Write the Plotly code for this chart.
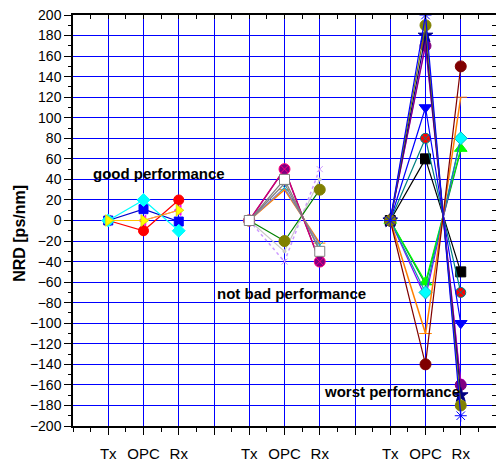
import plotly.graph_objects as go

# ---------------- data ----------------
stage_labels = ["Tx", "OPC", "Rx"]
good_x = [1, 2, 3]
notbad_x = [5, 6, 7]
worst_x = [9, 10, 11]
x_tick_vals = [1, 2, 3, 4, 5, 6, 7, 8, 9, 10, 11]
x_tick_text = ["Tx", "OPC", "Rx", "", "Tx", "OPC", "Rx", "", "Tx", "OPC", "Rx"]

# good performance group
good_magenta = [0, 0, 10]
good_yellow = [0, 0, 10]
good_blue = [0, 11, -1]
good_red = [0, -10, 20]
good_cyan = [0, 20, -10]

# not bad performance group
nb_lavender = [0, -40, 50]
nb_lightgray = [0, -30, 40]
nb_olive = [0, -20, 30]
nb_orange = [0, 30, -22]
nb_cyanx = [0, 32, -24]
nb_gray = [0, 36, -28]
nb_darkpurple = [0, 50, -40]
nb_magenta = [0, 50, -40]
nb_white = [0, 40, -30]

# worst performance group
w_black = [0, 60, -50]
w_red = [0, 80, -70]
w_blue = [0, 110, -100]
w_green = [0, -60, 70]
w_darkgreen = [0, -62, 68]
w_cyan = [0, -70, 80]
w_violet = [0, -75, 80]
w_orange = [0, -110, 120]
w_darkred = [0, -140, 150]
w_magenta = [0, 172, -158]
w_purple = [0, 170, -160]
w_navy = [0, 180, -170]
w_olive = [0, 190, -180]
w_asterisk = [0, 200, -190]

annotation_texts = ["good performance", "not bad performance", "worst performance"]
annotation_x = [2.45, 6.2, 9.05]
annotation_y = [46, -71, -166]
y_title = "NRD [ps/nm]"

# ---------------- styles ----------------
fig = go.Figure()


def add(xs, ys, line_color, symbol, mcolor, msize=9, mline=None, lwidth=1.2, dash="solid"):
    fig.add_trace(go.Scatter(
        x=xs, y=ys, mode="lines+markers",
        line=dict(color=line_color, width=lwidth, dash=dash),
        marker=dict(symbol=symbol, color=mcolor, size=msize,
                    line=dict(color=mline if mline else mcolor, width=1)),
        showlegend=False, hoverinfo="skip"))


# good
add(good_x, good_magenta, "#FF00FF", "triangle-left", "#FF00FF", 9)
add(good_x, good_red, "#FF0000", "circle", "#FF0000", 10)
add(good_x, good_blue, "#0000CC", "square", "#0000FF", 9)
add(good_x, good_cyan, "#00FFFF", "diamond", "#00FFFF", 10)
add(good_x, good_yellow, "#FFC000", "triangle-right", "#FFFF00", 10, mline="#E0E000")

# not bad
add(notbad_x, nb_lavender, "#CC99FF", "x-thin", "#CC99FF", 6, dash="dot", lwidth=1.5)
add(notbad_x, nb_lightgray, "#C8C8C8", "circle", "#C8C8C8", 3)
add(notbad_x, nb_olive, "#008000", "circle", "#808000", 11)
add(notbad_x, nb_orange, "#FF8000", "line-ew", "#FF8000", 8, lwidth=1.5)
add(notbad_x, nb_cyanx, "#8080C0", "x-thin", "#00C0C0", 8)
add(notbad_x, nb_gray, "#808080", "circle", "#808080", 3)
add(notbad_x, nb_darkpurple, "#660066", "circle", "#660066", 3)
add(notbad_x, nb_magenta, "#CC0077", "circle-x", "#800080", 11, mline="#FF0080", lwidth=1.5)
add(notbad_x, nb_white, "#808080", "square", "#FFFFFF", 10, mline="#808080")

# worst
add(worst_x, w_black, "#000000", "square", "#000000", 10)
add(worst_x, w_red, "#008080", "circle-x", "#FF0000", 10, mline="#008080")
add(worst_x, w_blue, "#0000FF", "triangle-down", "#0000FF", 11)
add(worst_x, w_darkgreen, "#008040", "circle", "#008040", 2)
add(worst_x, w_green, "#00FF00", "triangle-up", "#00FF00", 11)
add(worst_x, w_violet, "#8000FF", "circle", "#8000FF", 2)
add(worst_x, w_cyan, "#00A0A0", "diamond", "#00FFFF", 10, mline="#00C0C0")
add(worst_x, w_orange, "#FF8000", "line-ew", "#FF8000", 9, lwidth=1.5)
add(worst_x, w_darkred, "#800000", "circle", "#800000", 11)
add(worst_x, w_magenta, "#FF00FF", "circle", "#FF00FF", 8)
add(worst_x, w_purple, "#800080", "circle", "#800080", 11)
add(worst_x, w_navy, "#000080", "star", "#000080", 11)
add(worst_x, w_olive, "#808000", "circle", "#808000", 11)
add(worst_x, w_asterisk, "#0000FF", "asterisk-open", "#0000FF", 10)

# dummy trace for mirrored (inward) ticks on top/right
fig.add_trace(go.Scatter(x=[None], y=[None], xaxis="x2", yaxis="y2",
                         showlegend=False, hoverinfo="skip"))

for t, ax, ay in zip(annotation_texts, annotation_x, annotation_y):
    fig.add_annotation(x=ax, y=ay, text="<b>" + t + "</b>", showarrow=False,
                       font=dict(family="Liberation Sans, Arial", size=15, color="black"))

# y-axis title placed as rotated text
fig.add_annotation(xref="paper", yref="paper", x=-0.1253, y=0.47, text="<b>" + y_title + "</b>",
                   textangle=-90, showarrow=False, xanchor="center", yanchor="middle",
                   font=dict(family="Liberation Sans, Arial", size=16, color="black"))

font_family = "Liberation Sans, Arial"
fig.update_layout(
    width=496, height=465,
    margin=dict(l=73, r=0, t=15, b=39, autoexpand=False),
    paper_bgcolor="white", plot_bgcolor="white",
    font=dict(family=font_family, color="black", size=14),
    xaxis=dict(range=[0, 12], tickmode="array", tickvals=x_tick_vals, ticktext=x_tick_text,
               ticks="outside", ticklen=7, tickwidth=1, tickcolor="black",
               minor=dict(tickmode="linear", tick0=0, dtick=0.5, ticks="outside",
                          ticklen=4, tickcolor="black", showgrid=False),
               showgrid=True, gridcolor="#0000FF", gridwidth=1, zeroline=False,
               showline=True, linecolor="black", linewidth=1.5, automargin=False,
               tickfont=dict(size=15), ticklabelstandoff=6),
    yaxis=dict(range=[-200, 200], tickmode="linear", tick0=-200, dtick=20,
               ticks="outside", ticklen=7, tickwidth=1, tickcolor="black",
               minor=dict(tickmode="linear", tick0=-200, dtick=10, ticks="outside",
                          ticklen=3, tickcolor="black", showgrid=False),
               showgrid=True, gridcolor="#0000FF", gridwidth=1, zeroline=False,
               showline=True, linecolor="black", linewidth=1.5, automargin=False,
               tickfont=dict(size=14)),
    xaxis2=dict(overlaying="x", side="top", anchor="y2", range=[0, 12],
                tickmode="linear", tick0=0, dtick=0.5, ticks="inside", ticklen=4,
                tickcolor="black", showticklabels=False, showgrid=False, zeroline=False,
                showline=True, linecolor="black", linewidth=1.5, automargin=False),
    yaxis2=dict(overlaying="y", side="right", anchor="x2", range=[-200, 200],
                tickmode="linear", tick0=-200, dtick=10, ticks="inside", ticklen=4,
                tickcolor="black", showticklabels=False, showgrid=False, zeroline=False,
                showline=True, linecolor="black", linewidth=1.5, automargin=False),
)

fig.write_html("out.html", config={"displayModeBar": False},
               post_script="document.body.style.margin='0';document.body.style.padding='0';")
